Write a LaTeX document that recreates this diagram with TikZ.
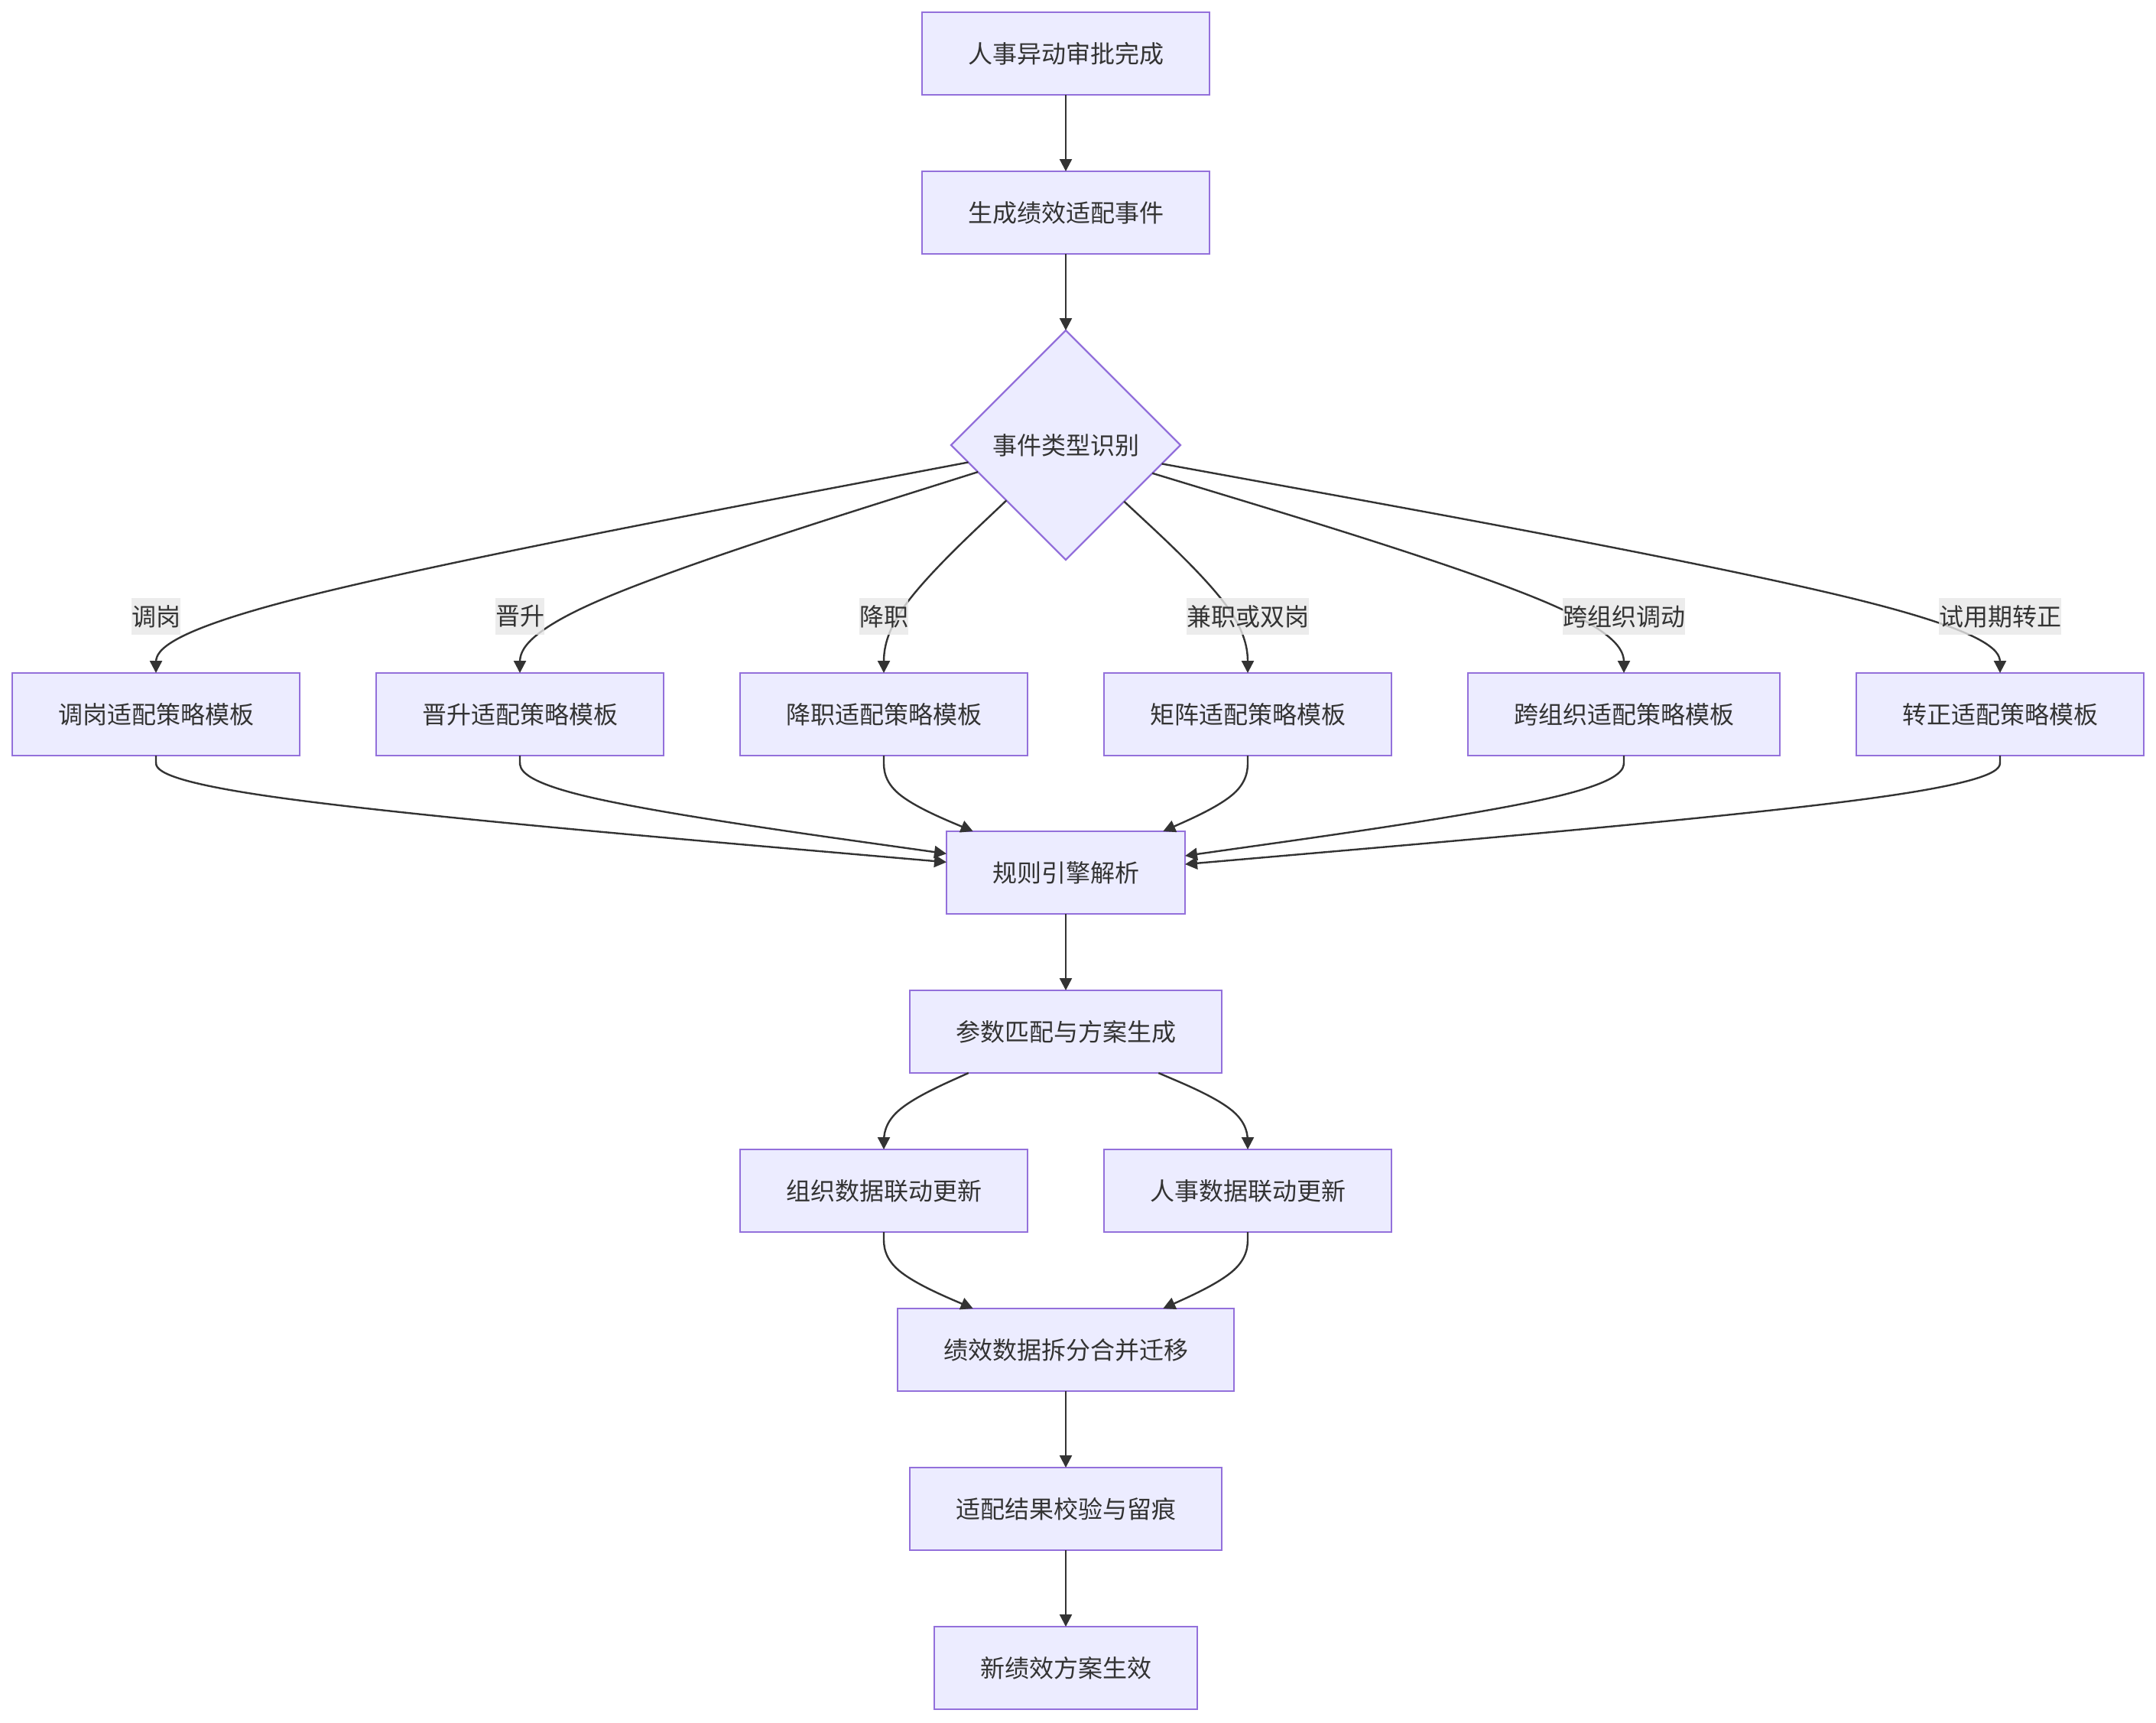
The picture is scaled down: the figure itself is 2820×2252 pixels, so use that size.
\documentclass[tikz,border=0pt]{standalone}
\usepackage{fontspec}
\setmainfont{Noto Sans CJK SC}
\usetikzlibrary{shapes.geometric,arrows.meta,calc}
\definecolor{nodefill}{HTML}{ECECFF}
\definecolor{nodeline}{HTML}{9370DB}
\definecolor{edgecol}{HTML}{333333}
\definecolor{txtcol}{HTML}{333333}
\definecolor{lblbg}{HTML}{E8E8E8}
\newcommand{\nodefont}{\fontsize{32}{38}\selectfont}
% basis spline through three points (like mermaid curveBasis)
\newcommand{\bsp}[3]{%
  \path ($(#1)!2/3!(#2)$) coordinate (tmpa) ($(#2)!1/3!(#3)$) coordinate (tmpb);
  \draw[edgeline] (#1) -- ($(#1)!1/6!(#2)$)
    .. controls ($(#1)!1/3!(#2)$) and (tmpa) .. ($(tmpa)!0.5!(tmpb)$)
    .. controls (tmpb) and ($(#2)!2/3!(#3)$) .. ($(#2)!5/6!(#3)$) -- (#3);
}
\tikzset{
  box/.style={draw=nodeline, fill=nodefill, line width=2.2pt, minimum height=108pt,
    inner xsep=60pt, inner ysep=0pt, outer sep=0pt, text=txtcol, font=\nodefont},
  dia/.style={diamond, draw=nodeline, fill=nodefill, line width=2.2pt, minimum width=300pt,
    minimum height=300pt, inner sep=0pt, outer sep=0pt, text=txtcol, font=\nodefont},
  lbl/.style={fill=lblbg, fill opacity=0.8, text opacity=1, text=txtcol, inner xsep=0pt,
    inner ysep=0pt, minimum height=48pt, font=\nodefont},
  edgeline/.style={draw=edgecol, line width=2.4pt, -{Triangle[length=16pt,width=16pt]}},
}
\begin{document}
\begin{tikzpicture}[x=1pt,y=1pt]
\useasboundingbox (0,0) rectangle (2820,-2252);
\fill[white] (0,0) rectangle (2820,-2252);

% nodes
\node[box] (A) at (1394,-70) {人事异动审批完成};
\node[box] (B) at (1394,-278) {生成绩效适配事件};
\node[dia] (C) at (1394,-582) {事件类型识别};
\node[box] (T1) at (204,-934) {调岗适配策略模板};
\node[box] (T2) at (680,-934) {晋升适配策略模板};
\node[box] (T3) at (1156,-934) {降职适配策略模板};
\node[box] (T4) at (1632,-934) {矩阵适配策略模板};
\node[box] (T5) at (2124,-934) {跨组织适配策略模板};
\node[box] (T6) at (2616,-934) {转正适配策略模板};
\node[box] (R) at (1394,-1141) {规则引擎解析};
\node[box] (P) at (1394,-1349) {参数匹配与方案生成};
\node[box] (O) at (1156,-1557) {组织数据联动更新};
\node[box] (H) at (1632,-1557) {人事数据联动更新};
\node[box] (Mg) at (1394,-1765) {绩效数据拆分合并迁移};
\node[box] (V) at (1394,-1973) {适配结果校验与留痕};
\node[box] (N) at (1394,-2181) {新绩效方案生效};

% route points
\coordinate (L1) at (204,-806);
\coordinate (L2) at (680,-806);
\coordinate (L3) at (1156,-806);
\coordinate (L4) at (1632,-806);
\coordinate (L5) at (2124,-806);
\coordinate (L6) at (2616,-806);
\coordinate (M1) at (204,-1038);
\coordinate (M2) at (680,-1038);
\coordinate (M3) at (1156,-1038);
\coordinate (M4) at (1632,-1038);
\coordinate (M5) at (2124,-1038);
\coordinate (M6) at (2616,-1038);
\coordinate (Q1) at (1156,-1453);
\coordinate (Q2) at (1632,-1453);
\coordinate (S1) at (1156,-1661);
\coordinate (S2) at (1632,-1661);

% edges
\draw[edgeline] (A) -- (B);
\draw[edgeline] (B) -- (C);
\bsp{C.190.66}{L1}{T1.north}
\bsp{C.197.42}{L2}{T2.north}
\bsp{C.223.26}{L3}{T3.north}
\bsp{C.316.74}{L4}{T4.north}
\bsp{C.342.94}{L5}{T5.north}
\bsp{C.349.61}{L6}{T6.north}
\bsp{T1.south}{M1}{R.175.05}
\bsp{T2.south}{M2}{R.171.79}
\bsp{T3.south}{M3}{R.156.6}
\bsp{T4.south}{M4}{R.23.4}
\bsp{T5.south}{M5}{R.8.03}
\bsp{T6.south}{M6}{R.4.82}
\draw[edgeline] (R) -- (P);
\bsp{P.203.6}{Q1}{O.north}
\bsp{P.336.4}{Q2}{H.north}
\bsp{O.south}{S1}{Mg.156.4}
\bsp{H.south}{S2}{Mg.23.6}
\draw[edgeline] (Mg) -- (V);
\draw[edgeline] (V) -- (N);

% edge labels
\node[lbl] (l1) at (L1) {调岗};
\node[lbl] (l2) at (L2) {晋升};
\node[lbl] (l3) at (L3) {降职};
\node[lbl] (l4) at (L4) {兼职或双岗};
\node[lbl] (l5) at (L5) {跨组织调动};
\node[lbl] (l6) at (L6) {试用期转正};
\end{tikzpicture}
\end{document}
